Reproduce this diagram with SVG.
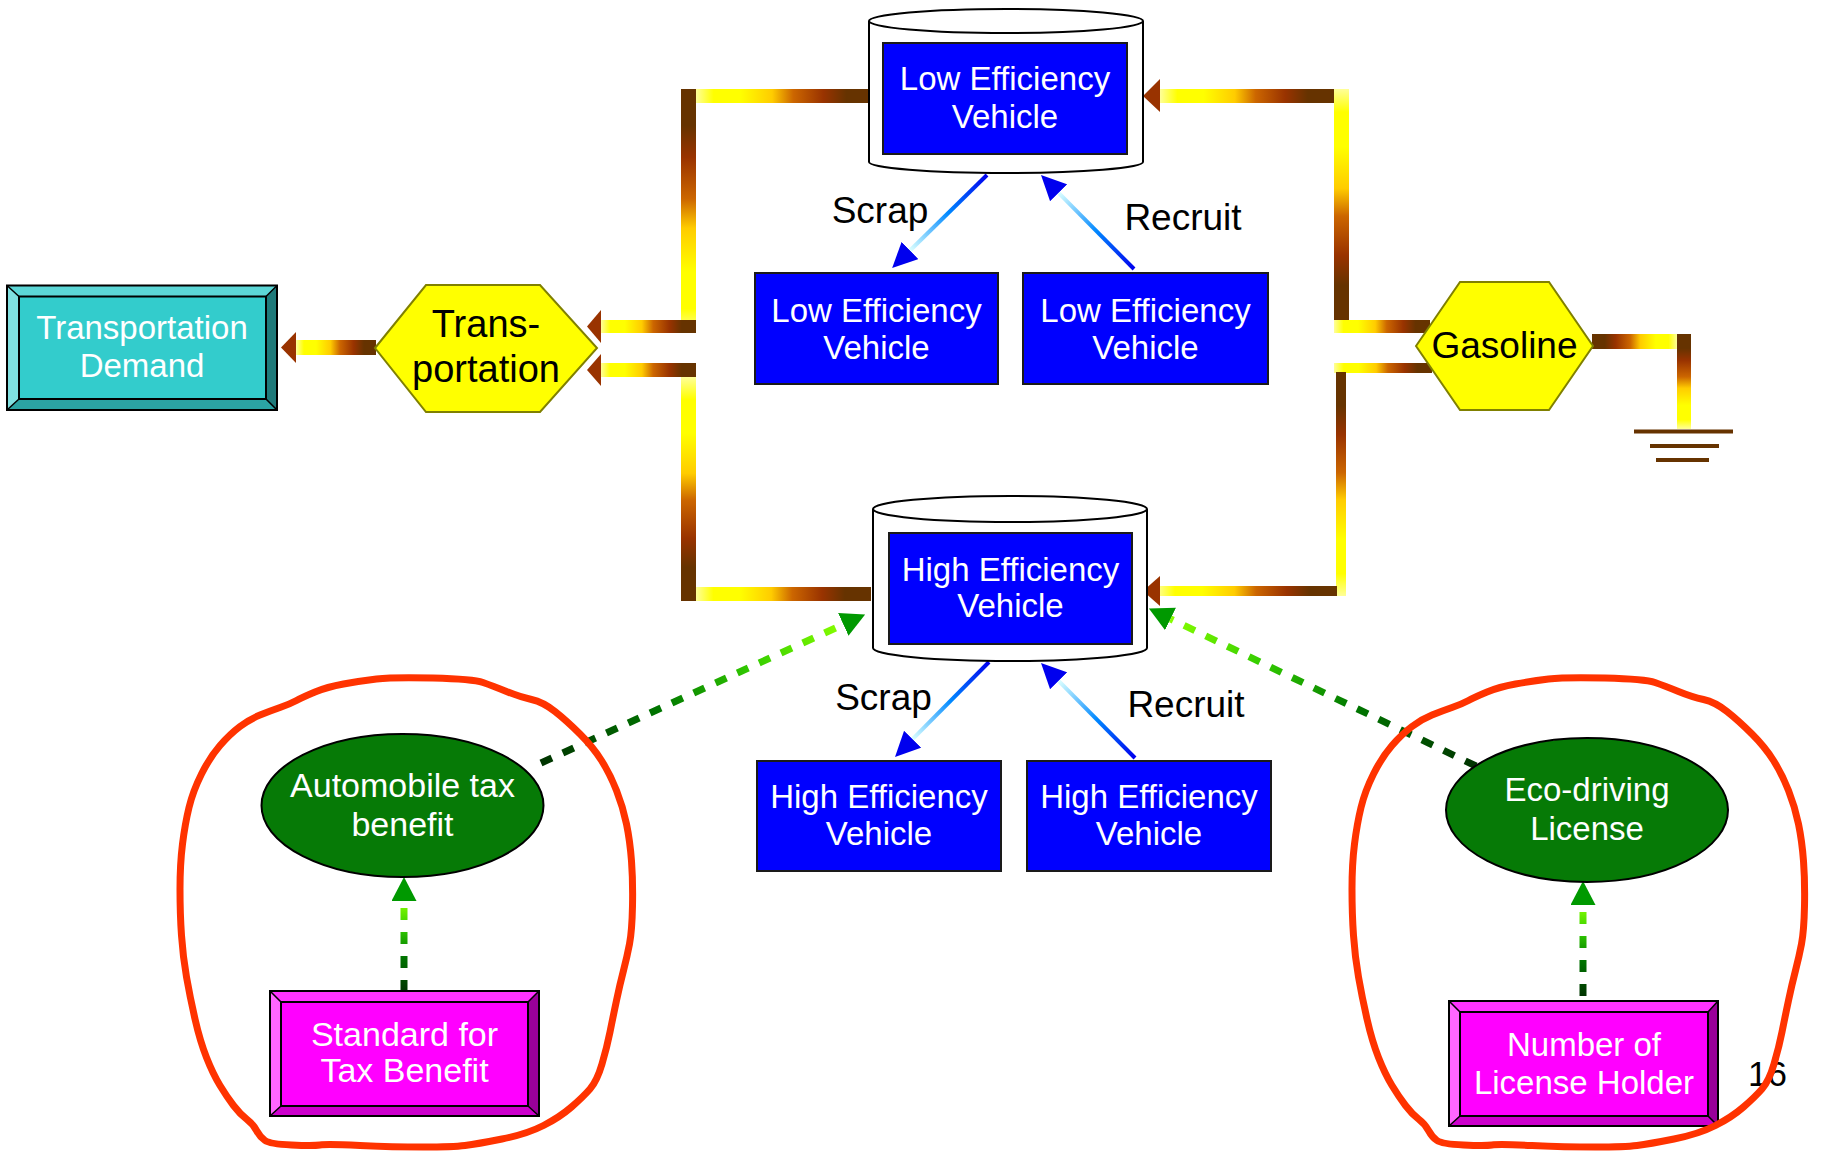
<svg xmlns="http://www.w3.org/2000/svg" xmlns:xlink="http://www.w3.org/1999/xlink" width="1821" height="1154" viewBox="0 0 1821 1154">
<style>
text{font-family:"Liberation Sans",Arial,sans-serif;text-anchor:middle}
.w{fill:#fff;font-size:33px}
.lab{fill:#000;font-size:37px}
.box{fill:#0000FF;stroke:#1a1a1a;stroke-width:2}
.cyl{fill:#fff;stroke:#000;stroke-width:2}
.hex{fill:#FFFF00;stroke:#808000;stroke-width:2}
.ell{fill:#067A06;stroke:#000;stroke-width:2}
.loop{fill:none;stroke:#FF3300;stroke-width:7;stroke-linejoin:round}
.gdash{fill:none;stroke-width:7;stroke-dasharray:12 12}
.bl{fill:none;stroke-width:4}
.head{fill:#993300}
.gnd{stroke:#663300;stroke-width:4}
.edge{fill:none;stroke:#000;stroke-width:2}
.thin{stroke:#000;stroke-width:1.5}
</style>
<defs>
<linearGradient id="flowL" x1="1" y1="0" x2="0" y2="0">
<stop offset="0" stop-color="#663300"/><stop offset="0.15" stop-color="#663300"/><stop offset="0.28" stop-color="#993300"/><stop offset="0.45" stop-color="#CC6600"/><stop offset="0.57" stop-color="#FFCC00"/><stop offset="0.75" stop-color="#FFFF00"/><stop offset="0.9" stop-color="#FFFF00"/><stop offset="1" stop-color="#FFFF99"/>
</linearGradient>
<linearGradient id="flowR" xlink:href="#flowL" x1="0" y1="0" x2="1" y2="0"/>
<linearGradient id="flowD" xlink:href="#flowL" x1="0" y1="0" x2="0" y2="1"/>
<linearGradient id="flowU" xlink:href="#flowL" x1="0" y1="1" x2="0" y2="0"/>
<linearGradient id="blueStops">
<stop offset="0" stop-color="#0000EE"/><stop offset="0.5" stop-color="#0088FF"/><stop offset="0.85" stop-color="#99DDFF"/><stop offset="1" stop-color="#DDFFFF"/>
</linearGradient>
<linearGradient id="b1" xlink:href="#blueStops" gradientUnits="userSpaceOnUse" x1="987" y1="175" x2="910" y2="250.5"/>
<linearGradient id="b2" xlink:href="#blueStops" gradientUnits="userSpaceOnUse" x1="1134" y1="269" x2="1058.6" y2="192.8"/>
<linearGradient id="b3" xlink:href="#blueStops" gradientUnits="userSpaceOnUse" x1="989" y1="662" x2="912.6" y2="739.2"/>
<linearGradient id="b4" xlink:href="#blueStops" gradientUnits="userSpaceOnUse" x1="1135" y1="758" x2="1058.6" y2="680.8"/>
<linearGradient id="greenStops">
<stop offset="0" stop-color="#003300"/><stop offset="0.4" stop-color="#007700"/><stop offset="0.7" stop-color="#33CC00"/><stop offset="1" stop-color="#88FF00"/>
</linearGradient>
<linearGradient id="gA" xlink:href="#greenStops" gradientUnits="userSpaceOnUse" x1="541" y1="763" x2="843" y2="624"/>
<linearGradient id="gB" xlink:href="#greenStops" gradientUnits="userSpaceOnUse" x1="1476" y1="766" x2="1170" y2="619"/>
<linearGradient id="gC" xlink:href="#greenStops" gradientUnits="userSpaceOnUse" x1="404" y1="992" x2="404" y2="901"/>
<linearGradient id="gD" xlink:href="#greenStops" gradientUnits="userSpaceOnUse" x1="1583" y1="996" x2="1583" y2="905"/>
<marker id="mBlue" viewBox="0 0 25 24" refX="0" refY="12" markerWidth="25" markerHeight="24" markerUnits="userSpaceOnUse" orient="auto">
<path d="M0,0 L25,12 L0,24 Z" fill="#0000EE"/>
</marker>
<marker id="mGreen" viewBox="0 0 24 25" refX="0" refY="12.5" markerWidth="24" markerHeight="25" markerUnits="userSpaceOnUse" orient="auto">
<path d="M0,0 L24,12.5 L0,25 Z" fill="#009900"/>
</marker>
<path id="loopShape" d="M433,678 Q473,679 483,682.5 Q493,686 506.5,691.5 Q520,697 531.5,699.5 Q543,702 555,711.5 Q567,721 580,734 Q593,747 601.5,760.5 Q610,774 616.5,790.5 Q623,807 626.5,824 Q630,841 631.5,861 Q633,881 632.5,906 Q632,931 629.5,944 Q627,957 623.5,970.5 Q620,984 616.5,1000.5 Q613,1017 610,1032 Q607,1047 602,1064 Q597,1081 590,1089 Q583,1097 571.5,1107 Q560,1117 543.5,1125.5 Q527,1134 502,1139 Q477,1144 465,1145.5 Q453,1147 423,1147 Q393,1147 360,1145.5 Q327,1144 320,1145 Q313,1146 291.5,1145 Q270,1144 265,1140.5 Q260,1137 256.5,1130.5 Q253,1124 246.5,1119 Q240,1114 233.5,1105.5 Q227,1097 220,1085.5 Q213,1074 206.5,1057.5 Q200,1041 195,1019 Q190,997 186.5,977 Q183,957 181.5,935.5 Q180,914 180,889 Q180,864 182.5,844 Q185,824 189,807.5 Q193,791 201.5,774 Q210,757 220,745.5 Q230,734 240,726.5 Q250,719 260,715 Q270,711 280,707.5 Q290,704 296.5,700.5 Q303,697 315,692 Q327,687 343.5,684 Q360,681 376.5,679 Q393,677 433,678 Z"/>
</defs>

<rect width="1821" height="1154" fill="#fff"/>

<g id="connectors">
  <!-- Low efficiency stock -> Transportation -->
  <rect x="696" y="89" width="177" height="14" fill="url(#flowL)"/>
  <rect x="681" y="89" width="15" height="244" fill="url(#flowD)"/>
  <rect x="601" y="320" width="95" height="13" fill="url(#flowL)"/>
  <polygon class="head" points="587,326.5 601,310 601,343"/>
  <!-- High efficiency stock -> Transportation -->
  <rect x="696" y="587" width="175" height="14" fill="url(#flowL)"/>
  <rect x="681" y="377" width="15" height="224" fill="url(#flowU)"/>
  <rect x="601" y="363" width="95" height="14" fill="url(#flowL)"/>
  <polygon class="head" points="587,370 601,354 601,386"/>
  <!-- Transportation -> Transportation Demand -->
  <rect x="296" y="340" width="80" height="15" fill="url(#flowL)"/>
  <polygon class="head" points="281,347.5 296,332 296,363"/>
  <!-- Gasoline -> Low efficiency stock -->
  <rect x="1334" y="320" width="96" height="13" fill="url(#flowL)"/>
  <rect x="1334" y="89" width="15" height="231" fill="url(#flowU)"/>
  <rect x="1160" y="89" width="174" height="14" fill="url(#flowL)"/>
  <polygon class="head" points="1143,96 1160,79 1160,112"/>
  <!-- Gasoline -> High efficiency stock -->
  <rect x="1334" y="363" width="98" height="10" fill="url(#flowL)"/>
  <rect x="1336" y="372" width="10" height="224" fill="url(#flowD)"/>
  <rect x="1157" y="586" width="180" height="10" fill="url(#flowL)"/>
  <polygon class="head" points="1143,591 1160,576 1160,606"/>
  <!-- Gasoline -> ground -->
  <rect x="1592" y="334" width="85" height="15" fill="url(#flowR)"/>
  <rect x="1677" y="334" width="14" height="95" fill="url(#flowD)"/>

  <!-- Scrap / Recruit flows -->
  <line class="bl" x1="987" y1="175" x2="910" y2="250.5" stroke="url(#b1)" marker-end="url(#mBlue)"/>
  <line class="bl" x1="1134" y1="269" x2="1058.6" y2="192.8" stroke="url(#b2)" marker-end="url(#mBlue)"/>
  <line class="bl" x1="989" y1="662" x2="912.6" y2="739.2" stroke="url(#b3)" marker-end="url(#mBlue)"/>
  <line class="bl" x1="1135" y1="758" x2="1058.6" y2="680.8" stroke="url(#b4)" marker-end="url(#mBlue)"/>
  <text class="lab" x="880" y="223">Scrap</text>
  <text class="lab" x="1183" y="230">Recruit</text>
  <text class="lab" x="883.5" y="710">Scrap</text>
  <text class="lab" x="1186" y="717">Recruit</text>

  <!-- influence links -->
  <line class="gdash" x1="541" y1="763" x2="843.3" y2="624.4" stroke="url(#gA)" marker-end="url(#mGreen)"/>
  <line class="gdash" x1="1476" y1="766" x2="1170.5" y2="618.9" stroke="url(#gB)" marker-end="url(#mGreen)"/>
  <line class="gdash" x1="404" y1="992" x2="404" y2="901" stroke="url(#gC)" marker-end="url(#mGreen)"/>
  <line class="gdash" x1="1583" y1="996" x2="1583" y2="905" stroke="url(#gD)" marker-end="url(#mGreen)"/>
</g>

<g id="low-stock">
  <path class="cyl" d="M869,21 V162 A137,11 0 0 0 1143,162 V21"/>
  <ellipse class="cyl" cx="1006" cy="21" rx="137" ry="12"/>
  <rect class="box" x="883" y="43" width="244" height="111"/>
  <text class="w" x="1005" y="90">Low Efficiency</text>
  <text class="w" x="1005" y="128">Vehicle</text>
</g>

<g id="low-scrapped">
  <rect class="box" x="755" y="273" width="243" height="111"/>
  <text class="w" x="876.5" y="322">Low Efficiency</text>
  <text class="w" x="876.5" y="359">Vehicle</text>
</g>

<g id="low-recruited">
  <rect class="box" x="1023" y="273" width="245" height="111"/>
  <text class="w" x="1145.5" y="322">Low Efficiency</text>
  <text class="w" x="1145.5" y="359">Vehicle</text>
</g>

<g id="high-stock">
  <path class="cyl" d="M873,509 V648 A137,13 0 0 0 1147,648 V509"/>
  <ellipse class="cyl" cx="1010" cy="509" rx="137" ry="13"/>
  <rect class="box" x="889" y="533" width="243" height="111"/>
  <text class="w" x="1010.5" y="581">High Efficiency</text>
  <text class="w" x="1010.5" y="617">Vehicle</text>
</g>

<g id="high-scrapped">
  <rect class="box" x="757" y="761" width="244" height="110"/>
  <text class="w" x="879" y="808">High Efficiency</text>
  <text class="w" x="879" y="845">Vehicle</text>
</g>

<g id="high-recruited">
  <rect class="box" x="1027" y="761" width="244" height="110"/>
  <text class="w" x="1149" y="808">High Efficiency</text>
  <text class="w" x="1149" y="845">Vehicle</text>
</g>

<g id="transportation">
  <polygon class="hex" points="375,348 426,285 540,285 597,348 540,412 426,412"/>
  <text class="lab" x="486" y="337" style="font-size:38px">Trans-</text>
  <text class="lab" x="486" y="382" style="font-size:38px">portation</text>
</g>

<g id="transportation-demand">
  <polygon points="7,285.5 277,285.5 266,296.5 19,296.5" fill="#5CD6D6"/>
  <polygon points="7,285.5 19,296.5 19,399 7,410" fill="#80E0E0"/>
  <polygon points="277,285.5 277,410 266,399 266,296.5" fill="#1F7A7A"/>
  <polygon points="7,410 19,399 266,399 277,410" fill="#2BA3A3"/>
  <rect x="19" y="296.5" width="247" height="102.5" fill="#33CCCC" stroke="#000" stroke-width="2"/>
  <rect class="edge" x="7" y="285.5" width="270" height="124.5"/>
  <path class="thin" d="M7,285.5 L19,296.5 M277,285.5 L266,296.5 M7,410 L19,399 M277,410 L266,399"/>
  <text class="w" x="142" y="339">Transportation</text>
  <text class="w" x="142" y="377">Demand</text>
</g>

<g id="gasoline">
  <polygon class="hex" points="1416,346 1460,282 1549,282 1593,346 1549,410 1460,410"/>
  <text class="lab" x="1504.5" y="358">Gasoline</text>
</g>

<g id="ground">
  <line class="gnd" x1="1634" y1="431.5" x2="1733" y2="431.5"/>
  <line class="gnd" x1="1650" y1="446" x2="1719" y2="446"/>
  <line class="gnd" x1="1656" y1="460" x2="1709" y2="460"/>
</g>

<g id="automobile-tax-benefit">
  <ellipse class="ell" cx="402.5" cy="805.5" rx="141" ry="71.5"/>
  <text class="w" x="402.5" y="797" style="font-size:34px">Automobile tax</text>
  <text class="w" x="402.5" y="836" style="font-size:34px">benefit</text>
</g>

<g id="standard-for-tax-benefit">
  <polygon points="270,991 539,991 528,1002 281,1002" fill="#FF33FF"/>
  <polygon points="270,991 281,1002 281,1106 270,1116" fill="#FF66FF"/>
  <polygon points="539,991 539,1116 528,1106 528,1002" fill="#990099"/>
  <polygon points="270,1116 281,1106 528,1106 539,1116" fill="#CC00CC"/>
  <rect x="281" y="1002" width="247" height="104" fill="#FF00FF" stroke="#000" stroke-width="2"/>
  <rect class="edge" x="270" y="991" width="269" height="125"/>
  <path class="thin" d="M270,991 L281,1002 M539,991 L528,1002 M270,1116 L281,1106 M539,1116 L528,1106"/>
  <text class="w" x="404.5" y="1046" style="font-size:34px">Standard for</text>
  <text class="w" x="404.5" y="1082" style="font-size:34px">Tax Benefit</text>
</g>

<g id="eco-driving-license">
  <ellipse class="ell" cx="1587" cy="810" rx="141" ry="72"/>
  <text class="w" x="1587" y="801">Eco-driving</text>
  <text class="w" x="1587" y="840">License</text>
</g>

<g id="number-of-license-holder">
  <polygon points="1449,1001 1718,1001 1708,1012 1460,1012" fill="#FF33FF"/>
  <polygon points="1449,1001 1460,1012 1460,1116 1449,1126" fill="#FF66FF"/>
  <polygon points="1718,1001 1718,1126 1708,1116 1708,1012" fill="#990099"/>
  <polygon points="1449,1126 1460,1116 1708,1116 1718,1126" fill="#CC00CC"/>
  <rect x="1460" y="1012" width="248" height="104" fill="#FF00FF" stroke="#000" stroke-width="2"/>
  <rect class="edge" x="1449" y="1001" width="269" height="125"/>
  <path class="thin" d="M1449,1001 L1460,1012 M1718,1001 L1708,1012 M1449,1126 L1460,1116 M1718,1126 L1708,1116"/>
  <text class="w" x="1584" y="1056">Number of</text>
  <text class="w" x="1584" y="1094">License Holder</text>
</g>

<text x="1748" y="1086" style="font-size:35px;fill:#000;text-anchor:start">16</text>

<g id="annotations">
  <use xlink:href="#loopShape" class="loop"/>
  <use xlink:href="#loopShape" class="loop" transform="translate(1172,0)"/>
</g>
</svg>
